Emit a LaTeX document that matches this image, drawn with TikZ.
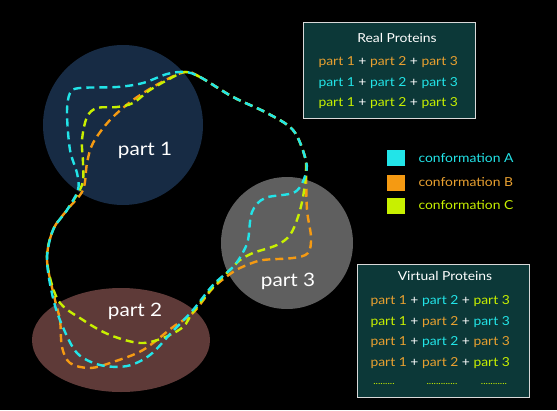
\documentclass[tikz,border=0pt]{standalone}
\usepackage{fontspec}
\setmainfont{Lato}[FakeStretch=1.12]
\begin{document}
\begin{tikzpicture}[x=1pt,y=-1pt,
  cA/.style={draw=cyanA},cB/.style={draw=orangeB},cC/.style={draw=limeC},
  conf/.style={line width=2.4pt,dash pattern=on 8pt off 5pt,line join=round},
  box/.style={draw=white!85!black,fill=boxbg,line width=0.8pt},
  lbl/.style={font=\fontsize{12.4}{14}\selectfont},
  dots/.style={text=limeC,font=\fontsize{9}{10}\selectfont},
  part/.style={text=white,font=\fontsize{18.5}{22}\selectfont}]
\definecolor{cyanA}{HTML}{22E4E8}
\definecolor{orangeB}{HTML}{F59A12}
\definecolor{limeC}{HTML}{C8F000}
\definecolor{boxbg}{HTML}{0C3838}
\definecolor{p1}{HTML}{172B44}
\definecolor{p2}{HTML}{5E3A38}
\definecolor{p3}{HTML}{5F5F5F}
\definecolor{txO}{HTML}{E8A030}
\fill[black] (0,0) rectangle (557,410);
\useasboundingbox (0,0) rectangle (557,410);
% parts
\fill[p1] (123,125) circle (80);
\fill[p3] (287,243) circle (66);
\fill[p2] (121,340) ellipse (89 and 52);
\node[part] (t1) at (145,150) {part 1};
\node[part] (t2) at (135,311) {part 2};
\node[part] (t3) at (288,281) {part 3};
% conformations
\draw[conf,cB] plot[smooth cycle,tension=0.55] coordinates{(185,72) (200,77) (233,97) (267,113) (293,130) (305,157) (306,173) (307,210) (311,237) (308,253) (293,258) (263,260) (247,265) (233,272) (213,288) (193,313) (173,327) (143,350) (113,362) (90,368) (70,363) (62,347) (60,320) (55,300) (47,260) (53,230) (67,210) (83,190) (87,163) (93,143) (110,120) (133,100) (160,83)};
\draw[conf,cC] plot[smooth cycle,tension=0.55] coordinates{(185,72) (200,77) (233,97) (267,113) (293,130) (305,157) (306,173) (303,197) (298,217) (290,235) (277,245) (253,253) (240,260) (233,267) (213,287) (193,312) (183,327) (163,338) (140,343) (110,335) (83,320) (58,300) (47,260) (53,230) (67,210) (82,185) (83,163) (82,140) (87,117) (97,108) (117,107) (133,103) (150,90) (173,77)};
\draw[conf,cA] plot[smooth cycle,tension=0.55] coordinates{(185,72) (200,77) (233,97) (267,113) (293,130) (305,157) (306,173) (295,192) (265,198) (252,212) (248,240) (242,254) (233,267) (213,285) (193,310) (172,332) (150,355) (127,366) (100,365) (77,353) (62,325) (53,298) (47,260) (53,230) (67,210) (78,190) (77,173) (70,150) (67,113) (70,93) (80,88) (117,87) (143,83) (167,74)};
% real proteins box
\draw[box] (303,22) rectangle (475,118);
\node[lbl,text=white] (rt) at (397,38) {Real Proteins};
\node[lbl,anchor=west] (r1) at (315,62) {\textcolor{txO}{part 1} \textcolor{white}{+} \textcolor{txO}{part 2} \textcolor{white}{+} \textcolor{txO}{part 3}};
\node[lbl,anchor=west] (r2) at (315,83) {\textcolor{cyanA}{part 1} \textcolor{white}{+} \textcolor{cyanA}{part 2} \textcolor{white}{+} \textcolor{cyanA}{part 3}};
\node[lbl,anchor=west] (r3) at (315,103) {\textcolor{limeC}{part 1} \textcolor{white}{+} \textcolor{limeC}{part 2} \textcolor{white}{+} \textcolor{limeC}{part 3}};
% legend
\fill[cyanA] (387,150) rectangle (405,166);
\fill[orangeB] (387,175) rectangle (405,191);
\fill[limeC] (387,198) rectangle (405,214);
\node[lbl,anchor=west,text=cyanA] (la) at (415,158) {conformation A};
\node[lbl,anchor=west,text=txO] (lb) at (415,182) {conformation B};
\node[lbl,anchor=west,text=limeC] (lc) at (415,205) {conformation C};
% virtual proteins box
\draw[box] (357,264) rectangle (529,397);
\node[lbl,text=white] (vt) at (445,276) {Virtual Proteins};
\node[lbl,anchor=west] (v1) at (367,301) {\textcolor{txO}{part 1} \textcolor{white}{+} \textcolor{cyanA}{part 2} \textcolor{white}{+} \textcolor{limeC}{part 3}};
\node[lbl,anchor=west] (v2) at (367,322) {\textcolor{limeC}{part 1} \textcolor{white}{+} \textcolor{txO}{part 2} \textcolor{white}{+} \textcolor{cyanA}{part 3}};
\node[lbl,anchor=west] (v3) at (367,342) {\textcolor{txO}{part 1} \textcolor{white}{+} \textcolor{cyanA}{part 2} \textcolor{white}{+} \textcolor{txO}{part 3}};
\node[lbl,anchor=west] (v4) at (367,363) {\textcolor{txO}{part 1} \textcolor{white}{+} \textcolor{txO}{part 2} \textcolor{white}{+} \textcolor{limeC}{part 3}};
\node[dots] (d1) at (384,384) {.........};
\node[dots] (d2) at (442,384) {.............};
\node[dots] (d3) at (494,384) {...........};
\end{tikzpicture}
\end{document}
